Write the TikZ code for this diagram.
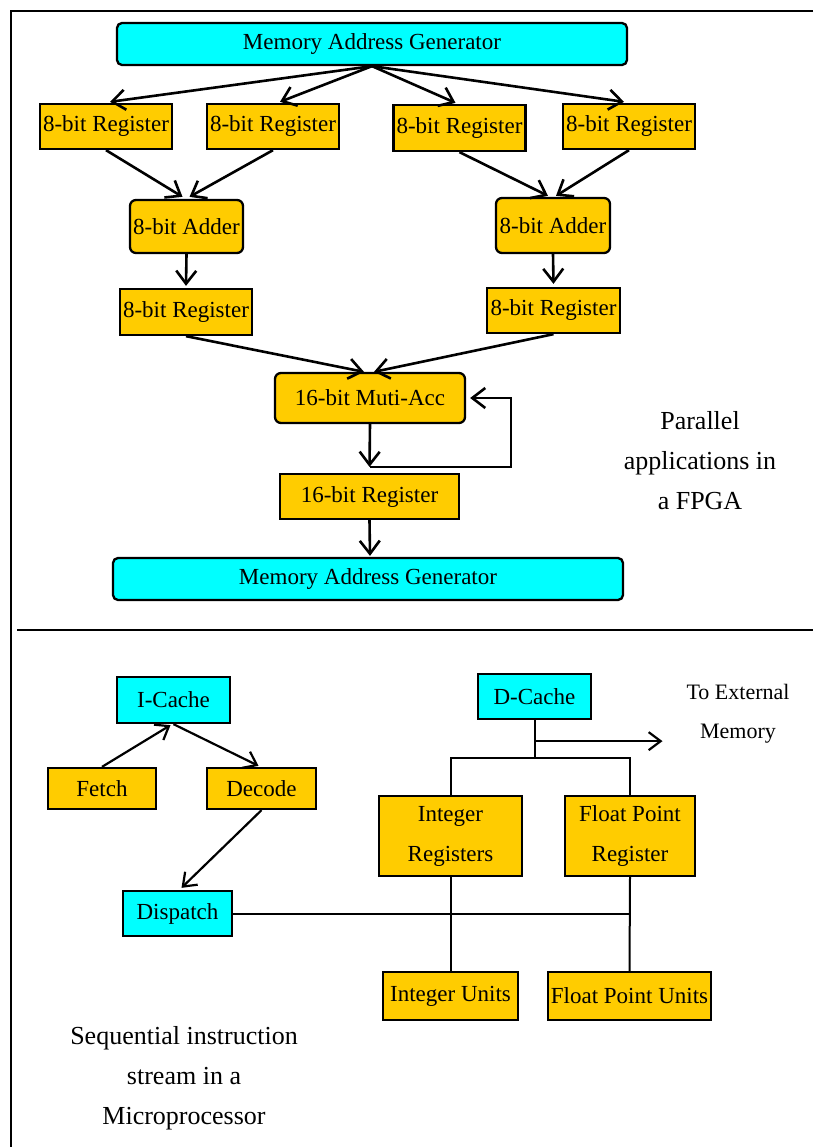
\documentclass[tikz,border=0pt]{standalone}
\usepackage{fontspec}
\setmainfont{Liberation Serif}
\usetikzlibrary{arrows.meta,calc}
\definecolor{gold}{HTML}{FFCC00}
\definecolor{aqua}{HTML}{00FFFF}
\tikzset{
  boxbase/.style={draw=black, line width=2.3pt, inner sep=0pt, align=center,
    font=\fontsize{23}{40}\selectfont},
  regbox/.style={boxbase, fill=gold},
  rregbox/.style={boxbase, fill=gold, rounded corners=6pt},
  magbox/.style={boxbase, fill=aqua, rounded corners=5pt},
  cachebox/.style={boxbase, fill=aqua},
  arr/.style={line width=2.6pt, -{Straight Barb[length=13pt,width=20pt,line width=2.6pt]}},
  arrb/.style={line width=2.2pt, -{Straight Barb[length=12pt,width=18pt,line width=2.2pt]}},
  conn/.style={line width=2pt},
  frameline/.style={line width=2.4pt},
  biglabel/.style={align=center, font=\fontsize{26}{40}\selectfont, inner sep=0pt},
  smalllabel/.style={align=center, font=\fontsize{22}{39}\selectfont, inner sep=0pt}
}
\begin{document}
\begin{tikzpicture}[x=1pt,y=-1pt]
\useasboundingbox (0,0) rectangle (813,1147);
% frame
\draw[frameline] (813,11) -- (11,11) -- (11,1147);
\draw[frameline] (17,630) -- (813,630);

% ---------- top section ----------
\node[magbox, minimum width=510pt, minimum height=42pt] (mag1) at (372,44) {\raisebox{-2pt}{Memory Address Generator}};
\node[regbox, minimum width=132pt, minimum height=45pt] (r1) at (106,126.5) {8-bit Register};
\node[regbox, minimum width=132pt, minimum height=45pt] (r2) at (273,126.5) {8-bit Register};
\node[regbox, minimum width=132pt, minimum height=46pt] (r3) at (459.5,128) {8-bit Register};
\node[regbox, minimum width=132pt, minimum height=45pt] (r4) at (629,126.5) {8-bit Register};
\node[rregbox, minimum width=113pt, minimum height=53pt] (add1) at (186.5,226.5) {8-bit Adder};
\node[rregbox, minimum width=114pt, minimum height=55pt] (add2) at (553,225.5) {8-bit Adder};
\node[regbox, minimum width=132pt, minimum height=46pt] (r5) at (186,312) {8-bit Register};
\node[regbox, minimum width=133pt, minimum height=45pt] (r6) at (553.5,310.5) {8-bit Register};
\node[rregbox, minimum width=190pt, minimum height=50pt] (acc) at (370,398) {16-bit Muti-Acc};
\node[regbox, minimum width=179pt, minimum height=45pt] (r16) at (369.5,496.5) {16-bit Register};
\node[magbox, minimum width=510pt, minimum height=42pt] (mag2) at (368,579) {\raisebox{-2pt}{Memory Address Generator}};

\draw[arr] (mag1.south) -- ($(r1.north)+(4,-1)$);
\draw[arr] (mag1.south) -- ($(r2.north)+(7,-1)$);
\draw[arr] (mag1.south) -- ($(r3.north)+(-4,-1)$);
\draw[arr] (mag1.south) -- ($(r4.north)+(-5,-1)$);
\draw[arr] (r1.south) -- ($(add1.north)+(-4,-2)$);
\draw[arr] (r2.south) -- ($(add1.north)+(3,-2)$);
\draw[arr] (r3.south) -- ($(add2.north)+(-5,-1)$);
\draw[arr] (r4.south) -- ($(add2.north)+(3,-1)$);
\draw[arr] (add1.south) -- ($(r5.north)+(0,-2)$);
\draw[arr] (add2.south) -- ($(r6.north)+(0,-3)$);
\draw[arr] (r5.south) -- ($(acc.north)+(-6,0)$);
\draw[arr] (r6.south) -- ($(acc.north)+(4,0)$);
\coordinate (j) at ($(r16.north)+(0,-6)$);
\draw[arr] (acc.south) -- (j);
\draw[arr] (j) -| ($(acc.east)+(45,0)$) -- ($(acc.east)+(4,0)$);
\draw[arr] (r16.south) -- ($(mag2.north)+(2,-1)$);

\node[biglabel] (lab1) at (700,461) {Parallel\\applications in\\a FPGA};

% ---------- bottom section ----------
\node[cachebox, minimum width=113pt, minimum height=46pt] (icache) at (173.5,700) {I-Cache};
\node[cachebox, minimum width=113pt, minimum height=45pt] (dcache) at (534.5,696.5) {D-Cache};
\node[regbox, minimum width=108pt, minimum height=41pt] (fetch) at (102,788.5) {Fetch};
\node[regbox, minimum width=109pt, minimum height=41pt] (decode) at (261.5,788.5) {Decode};
\node[regbox, minimum width=143pt, minimum height=80pt] (intreg) at (450.5,836) {Integer\\Registers};
\node[regbox, minimum width=130pt, minimum height=80pt] (fpreg) at (630,836) {Float Point\\Register};
\node[cachebox, minimum width=109pt, minimum height=45pt] (dispatch) at (177.5,913.5) {Dispatch};
\node[regbox, minimum width=135pt, minimum height=48pt] (intunits) at (450.5,996) {Integer Units};
\node[regbox, minimum width=163pt, minimum height=48pt] (fpunits) at (629.5,996) {Float Point Units};

\draw[arrb] (fetch.north) -- ($(icache.south)+(-3,1)$);
\draw[arrb] (icache.south) -- ($(decode.north)+(-3,-1)$);
\draw[arrb] (decode.south) -- ($(dispatch.north)+(4,-2)$);

\coordinate (dj) at ($(dcache.south)+(0,38)$);
\coordinate (ej) at ($(dcache.south)+(0,21)$);
\coordinate (ext) at ($(ej)+(128,0)$);
\draw[conn] (dcache.south) -- (dj);
\draw[conn] (intreg.north) |- (dj) -| (fpreg.north);
\draw[arrb] (ej) -- (ext);
\draw[conn] (dispatch.east) -- (dispatch.east -| fpreg.south);
\draw[conn] (intreg.south) -- (intunits.north);
\draw[conn] (fpreg.south) -- (fpunits.north);

\node[smalllabel] (lab2) at (738,714) {To External\\Memory};
\node[biglabel] (lab3) at (184,1078) {Sequential instruction\\stream in a\\Microprocessor};
\end{tikzpicture}
\end{document}
